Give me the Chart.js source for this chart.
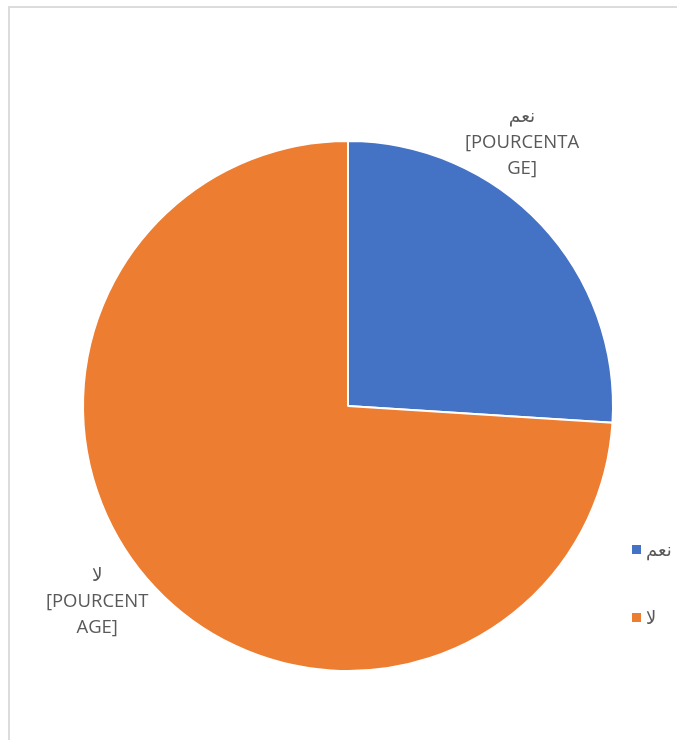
<!DOCTYPE html>
<html>
<head>
<meta charset="utf-8">
<script src="https://cdn.jsdelivr.net/npm/chart.js@4"></script>
<style>
  html, body { margin: 0; padding: 0; background: #fff; }
  #wrap { position: relative; width: 677px; height: 740px; overflow: hidden; }
  #frame { position: absolute; left: 8px; top: 6px; width: 720px; height: 760px; border: 2px solid #dcdcdc; box-sizing: border-box; }
  #pie { position: absolute; left: 0; top: 0; }
  #legend { position: absolute; left: 632px; top: 536px; font-family: 'Open Sans', 'DejaVu Sans', sans-serif; font-size: 18px; color: #595959; }
  #legend div { display: flex; align-items: center; height: 26px; margin-bottom: 42px; }
  #legend span.box { width: 9px; height: 9px; margin-right: 5px; display: inline-block; }
</style>
</head>
<body>
<div id="wrap">
  <div id="frame"></div>
  <canvas id="pie" width="677" height="740"></canvas>
  <div id="legend"></div>
</div>
<script>
// valeurs du camembert
const labels = ['نعم', 'لا'];
const values = [26, 74];
const colors = ['#4472C4', '#ED7D31'];
// étiquettes de données (texte tel qu'affiché, déjà coupé)
const dataLabels = [
  ['نعم', '[POURCENTA', 'GE]'],
  ['لا', '[POURCENT', 'AGE]']
];
const labelAngleShift = [-13.5, 5.5];   // décalage angulaire en degrés
const labelDistance = 52;               // au-delà du rayon

// légende à droite
const legendEl = document.getElementById('legend');
labels.forEach((l, i) => {
  const d = document.createElement('div');
  d.innerHTML = '<span class="box" style="background:' + colors[i] + '"></span><span>' + l + '</span>';
  legendEl.appendChild(d);
});

// dessine les étiquettes à l'extérieur des parts
const outsideLabels = {
  id: 'outsideLabels',
  afterDatasetsDraw(chart) {
    const ctx = chart.ctx;
    const meta = chart.getDatasetMeta(0);
    ctx.save();
    ctx.fillStyle = '#595959';
    ctx.font = '18.5px "Open Sans", "DejaVu Sans", sans-serif';
    ctx.textAlign = 'center';
    ctx.textBaseline = 'middle';
    meta.data.forEach((arc, i) => {
      const mid = (arc.startAngle + arc.endAngle) / 2 + labelAngleShift[i] * Math.PI / 180;
      const r = arc.outerRadius + labelDistance;
      const cx = arc.x + Math.cos(mid) * r;
      const cy = arc.y + Math.sin(mid) * r;
      const lines = dataLabels[i];
      const lh = 26;
      lines.forEach((t, k) => {
        ctx.fillText(t, cx, cy + 2 + (k - (lines.length - 1) / 2) * lh);
      });
    });
    ctx.restore();
  }
};

new Chart(document.getElementById('pie').getContext('2d'), {
  type: 'pie',
  data: {
    labels: labels,
    datasets: [{
      data: values,
      backgroundColor: colors,
      borderColor: '#ffffff',
      borderWidth: 2
    }]
  },
  options: {
    responsive: false,
    animation: false,
    layout: { padding: { left: 82, right: 63, top: 140, bottom: 68 } },
    plugins: { legend: { display: false }, tooltip: { enabled: false } }
  },
  plugins: [outsideLabels]
});
</script>
</body>
</html>
